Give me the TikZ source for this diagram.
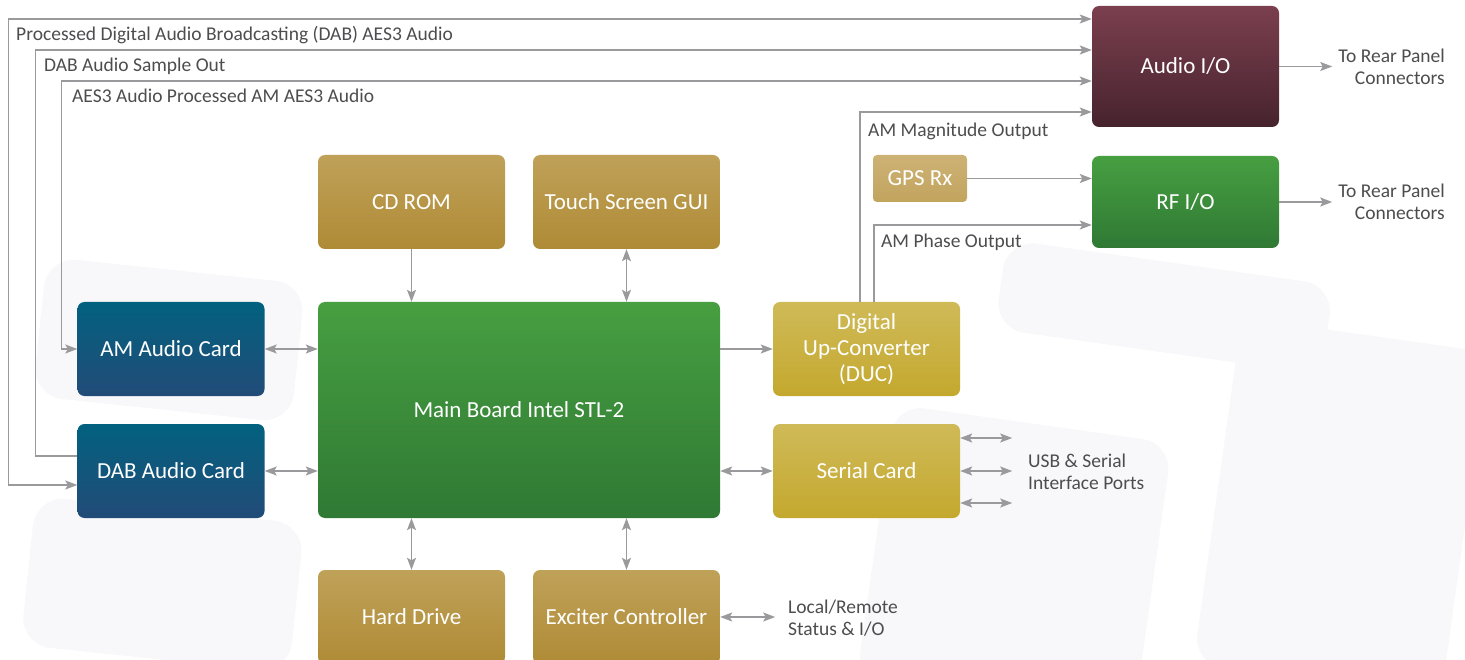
\documentclass[tikz,border=0pt]{standalone}
\usepackage{fontspec}
\setmainfont{Carlito}
\usetikzlibrary{arrows.meta,calc}
\definecolor{linegray}{HTML}{9A9A9C}
\definecolor{txtgray}{HTML}{4D4D4F}
\definecolor{bgshape}{HTML}{F8F8FA}
\begin{document}
\begin{tikzpicture}[x=1pt,y=-1pt,
  box/.style={rounded corners=7pt, minimum width=187pt, minimum height=94pt, inner sep=0pt,
    text=white, align=center, font=\fontsize{23}{26}\selectfont, draw=none},
  brownbox/.style={box, top color=brtop, bottom color=brbot},
  goldbox/.style={box, top color=gdtop, bottom color=gdbot},
  bluebox/.style={box, top color=bltop, bottom color=blbot},
  greenbox/.style={box, top color=grtop, bottom color=grbot},
  wire/.style={draw=linegray, line width=1.4pt},
  tip/.style={-{Stealth[length=12pt,width=9pt,inset=2.5pt]}},
  dtip/.style={{Stealth[length=12pt,width=9pt,inset=2.5pt]}-{Stealth[length=12pt,width=9pt,inset=2.5pt]}},
  lbl/.style={text=txtgray, font=\fontsize{19.5}{22}\selectfont, inner sep=0pt},
  bg/.style={fill=bgshape, rounded corners=30pt}]
\definecolor{brtop}{HTML}{BFA158}
\definecolor{brbot}{HTML}{AF8B36}
\definecolor{gdtop}{HTML}{CFBA58}
\definecolor{gdbot}{HTML}{C4A82E}
\definecolor{bltop}{HTML}{02617F}
\definecolor{blbot}{HTML}{224B78}
\definecolor{grtop}{HTML}{479F41}
\definecolor{grbot}{HTML}{2F7934}
\definecolor{autop}{HTML}{7B3F4F}
\definecolor{aubot}{HTML}{46232D}
\definecolor{gpstop}{HTML}{CDB275}
\definecolor{gpsbot}{HTML}{C2A45E}
\useasboundingbox (0,0) rectangle (1465,660);
% faint background shapes
\begin{scope}
\clip (0,0) rectangle (1465,660);
\fill[bg, rotate around={-6:(170,330)}] (40,270) rectangle (300,410);
\fill[bg, rotate around={-6:(170,560)}] (30,510) rectangle (300,660);
\fill[bg, rotate around={-8:(1000,520)}] (880,420) rectangle (1160,700);
\fill[bg, rotate around={-8:(1320,480)}] (1220,330) rectangle (1470,680);
\fill[bg, rotate around={-8:(1150,300)}] (1000,260) rectangle (1330,350);
\end{scope}
% boxes
\node[box, top color=autop, bottom color=aubot, minimum height=121pt] (audio) at (1185.5,66.5) {Audio I/O};
\node[greenbox, minimum height=92pt] (rf) at (1185.5,202) {RF I/O};
\node[box, top color=gpstop, bottom color=gpsbot, minimum width=94pt, minimum height=47pt, rounded corners=4pt] (gps) at (920,178.5) {GPS Rx};
\node[brownbox] (cdrom) at (411.5,202) {CD ROM};
\node[brownbox] (touch) at (626.5,202) {Touch Screen GUI};
\node[greenbox, minimum width=402pt, minimum height=216pt] (main) at (519,410) {Main Board Intel STL-2};
\node[goldbox] (duc) at (866.5,349) {Digital\\Up-Converter\\(DUC)};
\node[goldbox] (serial) at (866.5,471) {Serial Card};
\node[bluebox] (am) at (171,349) {AM Audio Card};
\node[bluebox] (dab) at (171,471) {DAB Audio Card};
\node[brownbox] (hd) at (411.5,617) {Hard Drive};
\node[brownbox] (exc) at (626.5,617) {Exciter Controller};
% labels
\node[lbl, anchor=west] (l1) at (16,35) {Processed Digital Audio Broadcasting (DAB) AES3 Audio};
\node[lbl, anchor=west] (l2) at (44,66) {DAB Audio Sample Out};
\node[lbl, anchor=west] (l3) at (72,96) {AES3 Audio Processed AM AES3 Audio};
\node[lbl, anchor=west] (l4) at (868,131) {AM Magnitude Output};
\node[lbl, anchor=west] (l5) at (881,242) {AM Phase Output};
\node[lbl, anchor=east, align=right, inner xsep=2pt] (rear1) at (1447,67) {To Rear Panel\\Connectors};
\node[lbl, anchor=east, align=right, inner xsep=2pt] (rear2) at (1447,202) {To Rear Panel\\Connectors};
\node[lbl, anchor=west, align=left] (usb) at (1028,472) {USB \& Serial\\Interface Ports};
\node[lbl, anchor=west, align=left] (local) at (788,618) {Local/Remote\\Status \& I/O};
% connectors
\draw[wire, dtip] ([yshift=-14pt]dab.west) -- ++(-69,0) |- ([yshift=47.5pt]audio.west);
\draw[wire, tip] ([yshift=15pt]dab.west) -- ++(-42,0) |- ([yshift=16.5pt]audio.west);
\draw[wire, dtip] (am.west) -- ++(-16,0) |- ([yshift=-14.5pt]audio.west);
\draw[wire, tip] ([xshift=-6.5pt]duc.north) |- ([yshift=-45.5pt]audio.west);
\draw[wire, tip] ([xshift=7.5pt]duc.north) |- ([yshift=-23pt]rf.west);
\draw[wire, tip] (gps.east) -- (gps.east -| rf.west);
\draw[wire, tip] (audio.east) -- ([xshift=-4pt]rear1.west |- audio.east);
\draw[wire, tip] (rf.east) -- ([xshift=-4pt]rear2.west |- rf.east);
\draw[wire, tip] (cdrom.south) -- (cdrom.south |- main.north);
\draw[wire, dtip] (touch.south) -- (touch.south |- main.north);
\draw[wire, dtip] (hd.north) -- (hd.north |- main.south);
\draw[wire, dtip] (exc.north) -- (exc.north |- main.south);
\draw[wire, dtip] (am.east) -- (am.east -| main.west);
\draw[wire, dtip] (dab.east) -- (dab.east -| main.west);
\draw[wire, tip] (main.east |- duc.west) -- (duc.west);
\draw[wire, dtip] (main.east |- serial.west) -- (serial.west);
\draw[wire, dtip] ([yshift=33pt]serial.east) -- ++(52,0);
\draw[wire, dtip] (serial.east) -- ++(52,0);
\draw[wire, dtip] ([yshift=-32pt]serial.east) -- ++(52,0);
\draw[wire, dtip] (exc.east) -- ++(55,0);
\end{tikzpicture}
\end{document}
